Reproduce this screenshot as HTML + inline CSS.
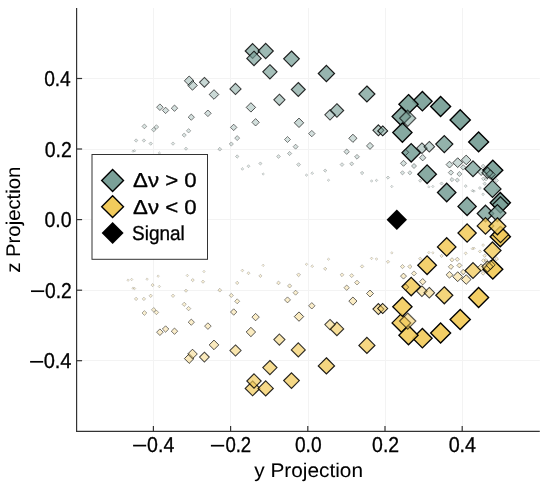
<!DOCTYPE html>
<html><head><meta charset="utf-8"><style>
html,body{margin:0;padding:0;background:#fff;}
svg{display:block;}
text{font-family:"Liberation Sans",sans-serif;fill:#000;stroke:#000;stroke-width:0.32px;text-rendering:geometricPrecision;}
text.ns{stroke-width:0.05px;}
</style></head><body>
<svg width="548" height="487" viewBox="0 0 548 487" style="will-change:transform">
<defs><filter id="sm" x="0" y="0" width="548" height="487" filterUnits="userSpaceOnUse" color-interpolation-filters="sRGB"><feConvolveMatrix order="3" kernelMatrix="1 2 1 2 16 2 1 2 1" edgeMode="duplicate"/></filter></defs>
<g >
<rect width="548" height="487" fill="#fff"/>
<g stroke="#f3f3f3" stroke-width="1">
<line x1="153.5" y1="8.0" x2="153.5" y2="431.4" />
<line x1="76.6" y1="360.5" x2="539.8" y2="360.5" />
<line x1="230.5" y1="8.0" x2="230.5" y2="431.4" />
<line x1="76.6" y1="290.5" x2="539.8" y2="290.5" />
<line x1="308.5" y1="8.0" x2="308.5" y2="431.4" />
<line x1="76.6" y1="219.5" x2="539.8" y2="219.5" />
<line x1="385.5" y1="8.0" x2="385.5" y2="431.4" />
<line x1="76.6" y1="149.5" x2="539.8" y2="149.5" />
<line x1="462.5" y1="8.0" x2="462.5" y2="431.4" />
<line x1="76.6" y1="78.5" x2="539.8" y2="78.5" />
</g>
<g stroke-linejoin="miter">
<path d="M189.2 76.0L194.0 80.8L189.2 85.6L184.4 80.8Z" fill="#7aa098" fill-opacity="0.40" stroke="#000" stroke-opacity="0.69" stroke-width="1.00"/>
<path d="M192.5 80.6L197.3 85.4L192.5 90.2L187.7 85.4Z" fill="#7aa098" fill-opacity="0.40" stroke="#000" stroke-opacity="0.69" stroke-width="1.00"/>
<path d="M204.4 77.4L209.3 82.3L204.4 87.2L199.5 82.3Z" fill="#7aa098" fill-opacity="0.41" stroke="#000" stroke-opacity="0.71" stroke-width="1.01"/>
<path d="M214.0 89.7L218.8 94.5L214.0 99.3L209.2 94.5Z" fill="#7aa098" fill-opacity="0.40" stroke="#000" stroke-opacity="0.69" stroke-width="1.00"/>
<path d="M159.9 103.9L163.2 107.2L159.9 110.5L156.6 107.2Z" fill="#7aa098" fill-opacity="0.32" stroke="#000" stroke-opacity="0.56" stroke-width="0.95"/>
<path d="M165.6 107.2L168.8 110.4L165.6 113.6L162.4 110.4Z" fill="#7aa098" fill-opacity="0.32" stroke="#000" stroke-opacity="0.55" stroke-width="0.95"/>
<path d="M174.5 105.0L177.7 108.2L174.5 111.4L171.3 108.2Z" fill="#7aa098" fill-opacity="0.32" stroke="#000" stroke-opacity="0.55" stroke-width="0.95"/>
<path d="M191.3 114.1L194.4 117.2L191.3 120.3L188.2 117.2Z" fill="#7aa098" fill-opacity="0.32" stroke="#000" stroke-opacity="0.53" stroke-width="0.95"/>
<path d="M207.9 110.0L211.2 113.3L207.9 116.6L204.6 113.3Z" fill="#7aa098" fill-opacity="0.32" stroke="#000" stroke-opacity="0.56" stroke-width="0.95"/>
<path d="M144.4 124.0L146.8 126.4L144.4 128.8L142.0 126.4Z" fill="#7aa098" fill-opacity="0.28" stroke="#000" stroke-opacity="0.36" stroke-width="0.91"/>
<path d="M153.7 127.3L156.0 129.6L153.7 131.9L151.4 129.6Z" fill="#7aa098" fill-opacity="0.28" stroke="#000" stroke-opacity="0.34" stroke-width="0.91"/>
<path d="M156.4 124.7L158.7 127.0L156.4 129.3L154.1 127.0Z" fill="#7aa098" fill-opacity="0.28" stroke="#000" stroke-opacity="0.34" stroke-width="0.91"/>
<path d="M188.6 128.6L190.8 130.8L188.6 133.0L186.4 130.8Z" fill="#7aa098" fill-opacity="0.27" stroke="#000" stroke-opacity="0.32" stroke-width="0.90"/>
<path d="M184.2 133.0L186.3 135.1L184.2 137.2L182.1 135.1Z" fill="#7aa098" fill-opacity="0.27" stroke="#000" stroke-opacity="0.30" stroke-width="0.90"/>
<path d="M252.6 43.6L260.0 51.0L252.6 58.4L245.2 51.0Z" fill="#7aa098" fill-opacity="0.71" stroke="#000" stroke-opacity="0.84" stroke-width="1.15"/>
<path d="M265.7 43.4L273.3 51.0L265.7 58.6L258.1 51.0Z" fill="#7aa098" fill-opacity="0.73" stroke="#000" stroke-opacity="0.85" stroke-width="1.17"/>
<path d="M254.0 51.2L261.2 58.4L254.0 65.6L246.8 58.4Z" fill="#7aa098" fill-opacity="0.69" stroke="#000" stroke-opacity="0.83" stroke-width="1.13"/>
<path d="M291.5 51.0L299.3 58.8L291.5 66.6L283.7 58.8Z" fill="#7aa098" fill-opacity="0.74" stroke="#000" stroke-opacity="0.86" stroke-width="1.19"/>
<path d="M269.9 64.7L277.0 71.8L269.9 78.9L262.8 71.8Z" fill="#7aa098" fill-opacity="0.68" stroke="#000" stroke-opacity="0.82" stroke-width="1.12"/>
<path d="M298.3 82.5L305.3 89.5L298.3 96.5L291.3 89.5Z" fill="#7aa098" fill-opacity="0.67" stroke="#000" stroke-opacity="0.81" stroke-width="1.11"/>
<path d="M235.5 83.3L241.1 88.9L235.5 94.5L229.9 88.9Z" fill="#7aa098" fill-opacity="0.50" stroke="#000" stroke-opacity="0.74" stroke-width="1.04"/>
<path d="M279.4 94.2L285.0 99.8L279.4 105.4L273.8 99.8Z" fill="#7aa098" fill-opacity="0.50" stroke="#000" stroke-opacity="0.74" stroke-width="1.04"/>
<path d="M250.9 102.7L255.6 107.4L250.9 112.1L246.2 107.4Z" fill="#7aa098" fill-opacity="0.39" stroke="#000" stroke-opacity="0.68" stroke-width="0.99"/>
<path d="M255.6 118.6L259.3 122.3L255.6 126.0L251.9 122.3Z" fill="#7aa098" fill-opacity="0.34" stroke="#000" stroke-opacity="0.59" stroke-width="0.96"/>
<path d="M299.0 118.1L303.7 122.8L299.0 127.5L294.3 122.8Z" fill="#7aa098" fill-opacity="0.39" stroke="#000" stroke-opacity="0.68" stroke-width="0.99"/>
<path d="M233.7 124.2L236.9 127.4L233.7 130.6L230.5 127.4Z" fill="#7aa098" fill-opacity="0.32" stroke="#000" stroke-opacity="0.55" stroke-width="0.95"/>
<path d="M326.4 65.4L334.5 73.5L326.4 81.6L318.3 73.5Z" fill="#7aa098" fill-opacity="0.78" stroke="#000" stroke-opacity="0.89" stroke-width="1.22"/>
<path d="M366.9 86.0L374.9 94.0L366.9 102.0L358.9 94.0Z" fill="#7aa098" fill-opacity="0.77" stroke="#000" stroke-opacity="0.88" stroke-width="1.21"/>
<path d="M336.9 103.7L343.7 110.5L336.9 117.3L330.1 110.5Z" fill="#7aa098" fill-opacity="0.64" stroke="#000" stroke-opacity="0.80" stroke-width="1.10"/>
<path d="M330.0 109.6L335.2 114.8L330.0 120.0L324.8 114.8Z" fill="#7aa098" fill-opacity="0.45" stroke="#000" stroke-opacity="0.72" stroke-width="1.02"/>
<path d="M311.8 130.4L315.0 133.6L311.8 136.8L308.6 133.6Z" fill="#7aa098" fill-opacity="0.32" stroke="#000" stroke-opacity="0.55" stroke-width="0.95"/>
<path d="M352.9 134.2L357.0 138.3L352.9 142.4L348.8 138.3Z" fill="#7aa098" fill-opacity="0.36" stroke="#000" stroke-opacity="0.63" stroke-width="0.98"/>
<path d="M378.4 124.8L383.9 130.3L378.4 135.8L372.9 130.3Z" fill="#7aa098" fill-opacity="0.55" stroke="#000" stroke-opacity="0.83" stroke-width="1.04"/>
<path d="M382.7 125.9L387.7 130.9L382.7 135.9L377.7 130.9Z" fill="#7aa098" fill-opacity="0.55" stroke="#000" stroke-opacity="0.92" stroke-width="1.01"/>
<path d="M370.0 142.4L373.5 145.9L370.0 149.4L366.5 145.9Z" fill="#7aa098" fill-opacity="0.33" stroke="#000" stroke-opacity="0.58" stroke-width="0.96"/>
<path d="M346.7 149.0L349.4 151.7L346.7 154.4L344.0 151.7Z" fill="#7aa098" fill-opacity="0.30" stroke="#000" stroke-opacity="0.45" stroke-width="0.93"/>
<path d="M357.0 154.4L359.4 156.8L357.0 159.2L354.6 156.8Z" fill="#7aa098" fill-opacity="0.29" stroke="#000" stroke-opacity="0.38" stroke-width="0.92"/>
<path d="M342.0 162.7L343.9 164.6L342.0 166.5L340.1 164.6Z" fill="#7aa098" fill-opacity="0.25" stroke="#000" stroke-opacity="0.27" stroke-width="0.87"/>
<path d="M351.7 161.8L353.7 163.8L351.7 165.8L349.7 163.8Z" fill="#7aa098" fill-opacity="0.26" stroke="#000" stroke-opacity="0.29" stroke-width="0.89"/>
<path d="M325.2 169.0L326.8 170.6L325.2 172.2L323.6 170.6Z" fill="#7aa098" fill-opacity="0.23" stroke="#000" stroke-opacity="0.25" stroke-width="0.85"/>
<path d="M312.2 171.8L313.6 173.2L312.2 174.6L310.8 173.2Z" fill="#7aa098" fill-opacity="0.21" stroke="#000" stroke-opacity="0.22" stroke-width="0.82"/>
<path d="M306.5 173.8L307.8 175.1L306.5 176.4L305.2 175.1Z" fill="#7aa098" fill-opacity="0.21" stroke="#000" stroke-opacity="0.21" stroke-width="0.81"/>
<path d="M328.5 178.9L329.8 180.2L328.5 181.4L327.2 180.2Z" fill="#7aa098" fill-opacity="0.20" stroke="#000" stroke-opacity="0.20" stroke-width="0.80"/>
<path d="M362.1 171.3L363.8 173.0L362.1 174.7L360.4 173.0Z" fill="#7aa098" fill-opacity="0.24" stroke="#000" stroke-opacity="0.25" stroke-width="0.85"/>
<path d="M371.6 179.7L372.9 181.0L371.6 182.3L370.3 181.0Z" fill="#7aa098" fill-opacity="0.21" stroke="#000" stroke-opacity="0.21" stroke-width="0.81"/>
<path d="M376.5 179.1L377.8 180.4L376.5 181.7L375.2 180.4Z" fill="#7aa098" fill-opacity="0.21" stroke="#000" stroke-opacity="0.21" stroke-width="0.81"/>
<path d="M388.0 176.0L389.6 177.6L388.0 179.2L386.4 177.6Z" fill="#7aa098" fill-opacity="0.23" stroke="#000" stroke-opacity="0.24" stroke-width="0.84"/>
<path d="M391.8 185.2L393.1 186.5L391.8 187.8L390.6 186.5Z" fill="#7aa098" fill-opacity="0.20" stroke="#000" stroke-opacity="0.20" stroke-width="0.80"/>
<path d="M237.2 135.6L239.7 138.1L237.2 140.6L234.7 138.1Z" fill="#7aa098" fill-opacity="0.29" stroke="#000" stroke-opacity="0.40" stroke-width="0.92"/>
<path d="M231.3 141.9L233.4 144.0L231.3 146.1L229.2 144.0Z" fill="#7aa098" fill-opacity="0.27" stroke="#000" stroke-opacity="0.30" stroke-width="0.90"/>
<path d="M219.8 147.3L221.7 149.2L219.8 151.1L217.9 149.2Z" fill="#7aa098" fill-opacity="0.25" stroke="#000" stroke-opacity="0.27" stroke-width="0.87"/>
<path d="M237.2 154.8L238.9 156.5L237.2 158.2L235.5 156.5Z" fill="#7aa098" fill-opacity="0.24" stroke="#000" stroke-opacity="0.25" stroke-width="0.85"/>
<path d="M287.5 136.5L290.5 139.5L287.5 142.5L284.5 139.5Z" fill="#7aa098" fill-opacity="0.31" stroke="#000" stroke-opacity="0.51" stroke-width="0.94"/>
<path d="M295.6 144.2L298.1 146.7L295.6 149.2L293.1 146.7Z" fill="#7aa098" fill-opacity="0.29" stroke="#000" stroke-opacity="0.40" stroke-width="0.92"/>
<path d="M289.6 151.4L291.7 153.5L289.6 155.6L287.5 153.5Z" fill="#7aa098" fill-opacity="0.27" stroke="#000" stroke-opacity="0.30" stroke-width="0.90"/>
<path d="M278.5 154.6L280.4 156.5L278.5 158.4L276.6 156.5Z" fill="#7aa098" fill-opacity="0.25" stroke="#000" stroke-opacity="0.27" stroke-width="0.87"/>
<path d="M260.4 161.9L262.0 163.5L260.4 165.1L258.8 163.5Z" fill="#7aa098" fill-opacity="0.23" stroke="#000" stroke-opacity="0.24" stroke-width="0.84"/>
<path d="M248.5 164.7L250.0 166.2L248.5 167.7L247.0 166.2Z" fill="#7aa098" fill-opacity="0.22" stroke="#000" stroke-opacity="0.23" stroke-width="0.83"/>
<path d="M242.4 167.5L243.8 168.9L242.4 170.3L241.0 168.9Z" fill="#7aa098" fill-opacity="0.21" stroke="#000" stroke-opacity="0.22" stroke-width="0.82"/>
<path d="M263.1 172.8L264.4 174.0L263.1 175.2L261.9 174.0Z" fill="#7aa098" fill-opacity="0.20" stroke="#000" stroke-opacity="0.20" stroke-width="0.80"/>
<path d="M298.6 162.7L300.5 164.6L298.6 166.5L296.7 164.6Z" fill="#7aa098" fill-opacity="0.25" stroke="#000" stroke-opacity="0.27" stroke-width="0.87"/>
<path d="M136.1 138.8L137.8 140.5L136.1 142.2L134.4 140.5Z" fill="#7aa098" fill-opacity="0.24" stroke="#000" stroke-opacity="0.25" stroke-width="0.85"/>
<path d="M143.9 138.8L145.6 140.5L143.9 142.2L142.2 140.5Z" fill="#7aa098" fill-opacity="0.24" stroke="#000" stroke-opacity="0.25" stroke-width="0.85"/>
<path d="M150.7 141.9L152.4 143.6L150.7 145.3L149.0 143.6Z" fill="#7aa098" fill-opacity="0.24" stroke="#000" stroke-opacity="0.25" stroke-width="0.85"/>
<path d="M173.0 141.9L174.7 143.6L173.0 145.3L171.3 143.6Z" fill="#7aa098" fill-opacity="0.24" stroke="#000" stroke-opacity="0.25" stroke-width="0.85"/>
<path d="M186.0 147.1L187.6 148.7L186.0 150.3L184.4 148.7Z" fill="#7aa098" fill-opacity="0.23" stroke="#000" stroke-opacity="0.24" stroke-width="0.84"/>
<path d="M133.0 149.9L134.2 151.2L133.0 152.4L131.8 151.2Z" fill="#7aa098" fill-opacity="0.20" stroke="#000" stroke-opacity="0.20" stroke-width="0.80"/>
<path d="M134.6 149.6L135.8 150.8L134.6 152.1L133.3 150.8Z" fill="#7aa098" fill-opacity="0.20" stroke="#000" stroke-opacity="0.20" stroke-width="0.80"/>
<path d="M159.3 151.7L160.6 152.9L159.3 154.2L158.1 152.9Z" fill="#7aa098" fill-opacity="0.20" stroke="#000" stroke-opacity="0.20" stroke-width="0.80"/>
<path d="M420.2 179.1L421.8 180.7L420.2 182.3L418.6 180.7Z" fill="#7aa098" fill-opacity="0.23" stroke="#000" stroke-opacity="0.25" stroke-width="0.85"/>
<path d="M428.9 185.6L430.1 186.8L428.9 188.1L427.6 186.8Z" fill="#7aa098" fill-opacity="0.20" stroke="#000" stroke-opacity="0.20" stroke-width="0.80"/>
<path d="M432.9 185.2L434.1 186.5L432.9 187.8L431.6 186.5Z" fill="#7aa098" fill-opacity="0.20" stroke="#000" stroke-opacity="0.20" stroke-width="0.80"/>
<path d="M441.6 181.9L443.2 183.5L441.6 185.1L440.0 183.5Z" fill="#7aa098" fill-opacity="0.23" stroke="#000" stroke-opacity="0.25" stroke-width="0.85"/>
<path d="M465.7 184.6L467.2 186.1L465.7 187.6L464.2 186.1Z" fill="#7aa098" fill-opacity="0.22" stroke="#000" stroke-opacity="0.23" stroke-width="0.83"/>
<path d="M472.4 189.4L473.7 190.7L472.4 192.0L471.1 190.7Z" fill="#7aa098" fill-opacity="0.21" stroke="#000" stroke-opacity="0.21" stroke-width="0.81"/>
<path d="M474.0 189.8L475.3 191.1L474.0 192.4L472.7 191.1Z" fill="#7aa098" fill-opacity="0.21" stroke="#000" stroke-opacity="0.21" stroke-width="0.81"/>
<path d="M479.9 186.5L481.4 188.0L479.9 189.5L478.4 188.0Z" fill="#7aa098" fill-opacity="0.22" stroke="#000" stroke-opacity="0.23" stroke-width="0.83"/>
<path d="M483.1 192.9L484.5 194.3L483.1 195.7L481.7 194.3Z" fill="#7aa098" fill-opacity="0.21" stroke="#000" stroke-opacity="0.22" stroke-width="0.82"/>
<path d="M483.5 176.9L485.4 178.8L483.5 180.7L481.6 178.8Z" fill="#7aa098" fill-opacity="0.25" stroke="#000" stroke-opacity="0.27" stroke-width="0.87"/>
<path d="M486.0 177.5L487.7 179.2L486.0 180.9L484.3 179.2Z" fill="#7aa098" fill-opacity="0.24" stroke="#000" stroke-opacity="0.25" stroke-width="0.85"/>
<path d="M484.7 182.0L486.4 183.7L484.7 185.4L483.0 183.7Z" fill="#7aa098" fill-opacity="0.24" stroke="#000" stroke-opacity="0.25" stroke-width="0.85"/>
<path d="M496.6 178.6L498.5 180.5L496.6 182.4L494.7 180.5Z" fill="#7aa098" fill-opacity="0.25" stroke="#000" stroke-opacity="0.27" stroke-width="0.87"/>
<path d="M497.3 188.6L498.8 190.1L497.3 191.6L495.8 190.1Z" fill="#7aa098" fill-opacity="0.22" stroke="#000" stroke-opacity="0.23" stroke-width="0.83"/>
<path d="M402.5 170.7L404.6 172.8L402.5 174.9L400.4 172.8Z" fill="#7aa098" fill-opacity="0.27" stroke="#000" stroke-opacity="0.30" stroke-width="0.90"/>
<path d="M409.9 170.7L412.0 172.8L409.9 174.9L407.8 172.8Z" fill="#7aa098" fill-opacity="0.27" stroke="#000" stroke-opacity="0.30" stroke-width="0.90"/>
<path d="M414.0 163.5L416.5 166.0L414.0 168.5L411.5 166.0Z" fill="#7aa098" fill-opacity="0.29" stroke="#000" stroke-opacity="0.40" stroke-width="0.92"/>
<path d="M403.5 160.3L406.5 163.3L403.5 166.3L400.5 163.3Z" fill="#7aa098" fill-opacity="0.31" stroke="#000" stroke-opacity="0.51" stroke-width="0.94"/>
<path d="M450.9 170.0L453.5 172.6L450.9 175.2L448.3 172.6Z" fill="#7aa098" fill-opacity="0.30" stroke="#000" stroke-opacity="0.43" stroke-width="0.92"/>
<path d="M459.4 171.5L461.9 174.0L459.4 176.5L456.9 174.0Z" fill="#7aa098" fill-opacity="0.29" stroke="#000" stroke-opacity="0.40" stroke-width="0.92"/>
<path d="M452.0 177.5L454.1 179.6L452.0 181.7L449.9 179.6Z" fill="#7aa098" fill-opacity="0.27" stroke="#000" stroke-opacity="0.30" stroke-width="0.90"/>
<path d="M457.3 178.0L459.4 180.1L457.3 182.2L455.2 180.1Z" fill="#7aa098" fill-opacity="0.27" stroke="#000" stroke-opacity="0.30" stroke-width="0.90"/>
<path d="M449.5 161.2L452.9 164.6L449.5 168.0L446.1 164.6Z" fill="#7aa098" fill-opacity="0.33" stroke="#000" stroke-opacity="0.57" stroke-width="0.96"/>
<path d="M463.2 164.7L465.9 167.4L463.2 170.1L460.5 167.4Z" fill="#7aa098" fill-opacity="0.30" stroke="#000" stroke-opacity="0.45" stroke-width="0.93"/>
<path d="M483.1 164.2L485.0 166.1L483.1 168.0L481.2 166.1Z" fill="#7aa098" fill-opacity="0.25" stroke="#000" stroke-opacity="0.27" stroke-width="0.87"/>
<path d="M401.4 107.2L410.7 116.5L401.4 125.8L392.1 116.5Z" fill="#7aa098" fill-opacity="0.89" stroke="#000" stroke-opacity="0.96" stroke-width="1.33"/>
<path d="M422.4 91.5L432.1 101.2L422.4 110.9L412.7 101.2Z" fill="#7aa098" fill-opacity="0.92" stroke="#000" stroke-opacity="0.98" stroke-width="1.37"/>
<path d="M408.5 94.6L418.1 104.2L408.5 113.8L398.9 104.2Z" fill="#7aa098" fill-opacity="0.91" stroke="#000" stroke-opacity="0.98" stroke-width="1.36"/>
<path d="M440.6 96.5L450.6 106.4L440.6 116.4L430.7 106.4Z" fill="#7aa098" fill-opacity="0.95" stroke="#000" stroke-opacity="1.00" stroke-width="1.40"/>
<path d="M407.7 110.2L415.8 118.3L407.7 126.4L399.6 118.3Z" fill="#7aa098" fill-opacity="0.55" stroke="#000" stroke-opacity="0.63" stroke-width="1.22"/>
<path d="M402.4 123.0L412.0 132.6L402.4 142.2L392.8 132.6Z" fill="#7aa098" fill-opacity="0.91" stroke="#000" stroke-opacity="0.98" stroke-width="1.36"/>
<path d="M460.2 109.8L470.3 119.9L460.2 130.1L450.1 119.9Z" fill="#7aa098" fill-opacity="0.95" stroke="#000" stroke-opacity="1.00" stroke-width="1.40"/>
<path d="M478.6 132.0L488.6 141.9L478.6 151.8L468.7 141.9Z" fill="#7aa098" fill-opacity="0.95" stroke="#000" stroke-opacity="1.00" stroke-width="1.40"/>
<path d="M444.3 135.6L452.8 144.1L444.3 152.6L435.8 144.1Z" fill="#7aa098" fill-opacity="0.81" stroke="#000" stroke-opacity="0.91" stroke-width="1.26"/>
<path d="M411.2 143.6L420.4 152.8L411.2 162.0L402.0 152.8Z" fill="#7aa098" fill-opacity="0.88" stroke="#000" stroke-opacity="0.95" stroke-width="1.33"/>
<path d="M405.5 149.1L408.7 152.3L405.5 155.5L402.3 152.3Z" fill="#7aa098" fill-opacity="0.32" stroke="#000" stroke-opacity="0.55" stroke-width="0.95"/>
<path d="M421.9 142.9L427.2 148.2L421.9 153.5L416.6 148.2Z" fill="#7aa098" fill-opacity="0.46" stroke="#000" stroke-opacity="0.73" stroke-width="1.03"/>
<path d="M429.3 141.4L434.6 146.7L429.3 152.0L424.0 146.7Z" fill="#7aa098" fill-opacity="0.46" stroke="#000" stroke-opacity="0.73" stroke-width="1.03"/>
<path d="M422.7 154.5L425.9 157.7L422.7 160.9L419.5 157.7Z" fill="#7aa098" fill-opacity="0.32" stroke="#000" stroke-opacity="0.55" stroke-width="0.95"/>
<path d="M427.1 164.9L436.4 174.2L427.1 183.5L417.8 174.2Z" fill="#7aa098" fill-opacity="0.89" stroke="#000" stroke-opacity="0.96" stroke-width="1.33"/>
<path d="M446.7 183.3L455.9 192.5L446.7 201.7L437.5 192.5Z" fill="#7aa098" fill-opacity="0.88" stroke="#000" stroke-opacity="0.95" stroke-width="1.33"/>
<path d="M457.7 157.8L462.6 162.7L457.7 167.5L452.8 162.7Z" fill="#7aa098" fill-opacity="0.40" stroke="#000" stroke-opacity="0.70" stroke-width="1.00"/>
<path d="M466.2 155.1L471.0 159.9L466.2 164.7L461.4 159.9Z" fill="#7aa098" fill-opacity="0.40" stroke="#000" stroke-opacity="0.69" stroke-width="1.00"/>
<path d="M473.0 160.9L480.9 168.8L473.0 176.7L465.1 168.8Z" fill="#7aa098" fill-opacity="0.76" stroke="#000" stroke-opacity="0.87" stroke-width="1.20"/>
<path d="M492.8 160.2L502.8 170.2L492.8 180.1L482.9 170.2Z" fill="#7aa098" fill-opacity="0.95" stroke="#000" stroke-opacity="1.00" stroke-width="1.40"/>
<path d="M481.2 168.1L484.9 171.8L481.2 175.5L477.5 171.8Z" fill="#7aa098" fill-opacity="0.34" stroke="#000" stroke-opacity="0.59" stroke-width="0.96"/>
<path d="M487.5 167.2L493.1 172.8L487.5 178.4L481.9 172.8Z" fill="#7aa098" fill-opacity="0.50" stroke="#000" stroke-opacity="0.74" stroke-width="1.04"/>
<path d="M490.5 169.8L495.2 174.5L490.5 179.2L485.8 174.5Z" fill="#7aa098" fill-opacity="0.39" stroke="#000" stroke-opacity="0.68" stroke-width="0.99"/>
<path d="M492.5 180.4L501.0 188.9L492.5 197.4L484.0 188.9Z" fill="#7aa098" fill-opacity="0.81" stroke="#000" stroke-opacity="0.91" stroke-width="1.26"/>
<path d="M467.1 197.3L476.2 206.4L467.1 215.5L458.0 206.4Z" fill="#7aa098" fill-opacity="0.87" stroke="#000" stroke-opacity="0.95" stroke-width="1.32"/>
<path d="M485.5 205.2L493.8 213.5L485.5 221.8L477.2 213.5Z" fill="#7aa098" fill-opacity="0.80" stroke="#000" stroke-opacity="0.90" stroke-width="1.24"/>
<path d="M500.3 192.6L510.4 202.7L500.3 212.8L490.2 202.7Z" fill="#7aa098" fill-opacity="0.95" stroke="#000" stroke-opacity="1.00" stroke-width="1.40"/>
<path d="M500.5 196.7L508.6 204.8L500.5 212.9L492.4 204.8Z" fill="#7aa098" fill-opacity="0.78" stroke="#000" stroke-opacity="0.89" stroke-width="1.22"/>
<path d="M497.4 204.6L505.9 213.1L497.4 221.6L488.9 213.1Z" fill="#7aa098" fill-opacity="0.81" stroke="#000" stroke-opacity="0.91" stroke-width="1.26"/>
<path d="M203.0 280.1L204.6 281.7L203.0 283.3L201.4 281.7Z" fill="#f2cb5c" fill-opacity="0.23" stroke="#000" stroke-opacity="0.24" stroke-width="0.84"/>
<path d="M204.0 270.2L205.2 271.5L204.0 272.8L202.8 271.5Z" fill="#f2cb5c" fill-opacity="0.20" stroke="#000" stroke-opacity="0.20" stroke-width="0.80"/>
<path d="M192.7 278.5L194.3 280.1L192.7 281.7L191.1 280.1Z" fill="#f2cb5c" fill-opacity="0.23" stroke="#000" stroke-opacity="0.24" stroke-width="0.84"/>
<path d="M187.3 274.2L188.6 275.5L187.3 276.8L186.1 275.5Z" fill="#f2cb5c" fill-opacity="0.20" stroke="#000" stroke-opacity="0.20" stroke-width="0.80"/>
<path d="M152.6 283.5L154.2 285.1L152.6 286.7L151.0 285.1Z" fill="#f2cb5c" fill-opacity="0.23" stroke="#000" stroke-opacity="0.24" stroke-width="0.84"/>
<path d="M158.2 274.9L159.4 276.1L158.2 277.4L156.9 276.1Z" fill="#f2cb5c" fill-opacity="0.20" stroke="#000" stroke-opacity="0.20" stroke-width="0.80"/>
<path d="M147.1 277.9L148.3 279.1L147.1 280.4L145.8 279.1Z" fill="#f2cb5c" fill-opacity="0.20" stroke="#000" stroke-opacity="0.20" stroke-width="0.80"/>
<path d="M131.7 278.2L132.9 279.5L131.7 280.8L130.4 279.5Z" fill="#f2cb5c" fill-opacity="0.20" stroke="#000" stroke-opacity="0.20" stroke-width="0.80"/>
<path d="M128.1 278.9L129.3 280.1L128.1 281.4L126.8 280.1Z" fill="#f2cb5c" fill-opacity="0.20" stroke="#000" stroke-opacity="0.20" stroke-width="0.80"/>
<path d="M189.2 353.8L194.0 358.6L189.2 363.4L184.4 358.6Z" fill="#f2cb5c" fill-opacity="0.40" stroke="#000" stroke-opacity="0.69" stroke-width="1.00"/>
<path d="M192.5 349.2L197.3 354.0L192.5 358.8L187.7 354.0Z" fill="#f2cb5c" fill-opacity="0.40" stroke="#000" stroke-opacity="0.69" stroke-width="1.00"/>
<path d="M204.4 352.2L209.3 357.1L204.4 362.0L199.5 357.1Z" fill="#f2cb5c" fill-opacity="0.41" stroke="#000" stroke-opacity="0.71" stroke-width="1.01"/>
<path d="M214.0 340.1L218.8 344.9L214.0 349.7L209.2 344.9Z" fill="#f2cb5c" fill-opacity="0.40" stroke="#000" stroke-opacity="0.69" stroke-width="1.00"/>
<path d="M159.9 328.9L163.2 332.2L159.9 335.5L156.6 332.2Z" fill="#f2cb5c" fill-opacity="0.32" stroke="#000" stroke-opacity="0.56" stroke-width="0.95"/>
<path d="M165.6 325.8L168.8 329.0L165.6 332.2L162.4 329.0Z" fill="#f2cb5c" fill-opacity="0.32" stroke="#000" stroke-opacity="0.55" stroke-width="0.95"/>
<path d="M174.5 328.0L177.7 331.2L174.5 334.4L171.3 331.2Z" fill="#f2cb5c" fill-opacity="0.32" stroke="#000" stroke-opacity="0.55" stroke-width="0.95"/>
<path d="M191.3 319.1L194.4 322.2L191.3 325.3L188.2 322.2Z" fill="#f2cb5c" fill-opacity="0.32" stroke="#000" stroke-opacity="0.53" stroke-width="0.95"/>
<path d="M207.9 322.8L211.2 326.1L207.9 329.4L204.6 326.1Z" fill="#f2cb5c" fill-opacity="0.32" stroke="#000" stroke-opacity="0.56" stroke-width="0.95"/>
<path d="M144.4 310.6L146.8 313.0L144.4 315.4L142.0 313.0Z" fill="#f2cb5c" fill-opacity="0.28" stroke="#000" stroke-opacity="0.36" stroke-width="0.91"/>
<path d="M153.7 307.5L156.0 309.8L153.7 312.1L151.4 309.8Z" fill="#f2cb5c" fill-opacity="0.28" stroke="#000" stroke-opacity="0.34" stroke-width="0.91"/>
<path d="M156.4 310.1L158.7 312.4L156.4 314.7L154.1 312.4Z" fill="#f2cb5c" fill-opacity="0.28" stroke="#000" stroke-opacity="0.34" stroke-width="0.91"/>
<path d="M188.6 306.4L190.8 308.6L188.6 310.8L186.4 308.6Z" fill="#f2cb5c" fill-opacity="0.27" stroke="#000" stroke-opacity="0.32" stroke-width="0.90"/>
<path d="M184.2 302.2L186.3 304.3L184.2 306.4L182.1 304.3Z" fill="#f2cb5c" fill-opacity="0.27" stroke="#000" stroke-opacity="0.30" stroke-width="0.90"/>
<path d="M252.6 381.0L260.0 388.4L252.6 395.8L245.2 388.4Z" fill="#f2cb5c" fill-opacity="0.71" stroke="#000" stroke-opacity="0.84" stroke-width="1.15"/>
<path d="M265.7 380.8L273.3 388.4L265.7 396.0L258.1 388.4Z" fill="#f2cb5c" fill-opacity="0.73" stroke="#000" stroke-opacity="0.85" stroke-width="1.17"/>
<path d="M254.0 373.8L261.2 381.0L254.0 388.2L246.8 381.0Z" fill="#f2cb5c" fill-opacity="0.69" stroke="#000" stroke-opacity="0.83" stroke-width="1.13"/>
<path d="M291.5 372.8L299.3 380.6L291.5 388.4L283.7 380.6Z" fill="#f2cb5c" fill-opacity="0.74" stroke="#000" stroke-opacity="0.86" stroke-width="1.19"/>
<path d="M269.9 360.5L277.0 367.6L269.9 374.7L262.8 367.6Z" fill="#f2cb5c" fill-opacity="0.68" stroke="#000" stroke-opacity="0.82" stroke-width="1.12"/>
<path d="M298.3 342.9L305.3 349.9L298.3 356.9L291.3 349.9Z" fill="#f2cb5c" fill-opacity="0.67" stroke="#000" stroke-opacity="0.81" stroke-width="1.11"/>
<path d="M235.5 344.9L241.1 350.5L235.5 356.1L229.9 350.5Z" fill="#f2cb5c" fill-opacity="0.50" stroke="#000" stroke-opacity="0.74" stroke-width="1.04"/>
<path d="M279.4 334.0L285.0 339.6L279.4 345.2L273.8 339.6Z" fill="#f2cb5c" fill-opacity="0.50" stroke="#000" stroke-opacity="0.74" stroke-width="1.04"/>
<path d="M250.9 327.3L255.6 332.0L250.9 336.7L246.2 332.0Z" fill="#f2cb5c" fill-opacity="0.39" stroke="#000" stroke-opacity="0.68" stroke-width="0.99"/>
<path d="M255.6 313.4L259.3 317.1L255.6 320.8L251.9 317.1Z" fill="#f2cb5c" fill-opacity="0.34" stroke="#000" stroke-opacity="0.59" stroke-width="0.96"/>
<path d="M299.0 311.9L303.7 316.6L299.0 321.3L294.3 316.6Z" fill="#f2cb5c" fill-opacity="0.39" stroke="#000" stroke-opacity="0.68" stroke-width="0.99"/>
<path d="M233.7 308.8L236.9 312.0L233.7 315.2L230.5 312.0Z" fill="#f2cb5c" fill-opacity="0.32" stroke="#000" stroke-opacity="0.55" stroke-width="0.95"/>
<path d="M326.4 357.8L334.5 365.9L326.4 374.0L318.3 365.9Z" fill="#f2cb5c" fill-opacity="0.78" stroke="#000" stroke-opacity="0.89" stroke-width="1.22"/>
<path d="M366.9 337.4L374.9 345.4L366.9 353.4L358.9 345.4Z" fill="#f2cb5c" fill-opacity="0.77" stroke="#000" stroke-opacity="0.88" stroke-width="1.21"/>
<path d="M336.9 322.1L343.7 328.9L336.9 335.7L330.1 328.9Z" fill="#f2cb5c" fill-opacity="0.64" stroke="#000" stroke-opacity="0.80" stroke-width="1.10"/>
<path d="M330.0 319.4L335.2 324.6L330.0 329.8L324.8 324.6Z" fill="#f2cb5c" fill-opacity="0.45" stroke="#000" stroke-opacity="0.72" stroke-width="1.02"/>
<path d="M311.8 302.6L315.0 305.8L311.8 309.0L308.6 305.8Z" fill="#f2cb5c" fill-opacity="0.32" stroke="#000" stroke-opacity="0.55" stroke-width="0.95"/>
<path d="M352.9 297.0L357.0 301.1L352.9 305.2L348.8 301.1Z" fill="#f2cb5c" fill-opacity="0.36" stroke="#000" stroke-opacity="0.63" stroke-width="0.98"/>
<path d="M378.4 303.6L383.9 309.1L378.4 314.6L372.9 309.1Z" fill="#f2cb5c" fill-opacity="0.55" stroke="#000" stroke-opacity="0.83" stroke-width="1.04"/>
<path d="M382.7 303.5L387.7 308.5L382.7 313.5L377.7 308.5Z" fill="#f2cb5c" fill-opacity="0.55" stroke="#000" stroke-opacity="0.92" stroke-width="1.01"/>
<path d="M370.0 290.0L373.5 293.5L370.0 297.0L366.5 293.5Z" fill="#f2cb5c" fill-opacity="0.33" stroke="#000" stroke-opacity="0.58" stroke-width="0.96"/>
<path d="M346.7 285.0L349.4 287.7L346.7 290.4L344.0 287.7Z" fill="#f2cb5c" fill-opacity="0.30" stroke="#000" stroke-opacity="0.45" stroke-width="0.93"/>
<path d="M357.0 280.2L359.4 282.6L357.0 285.0L354.6 282.6Z" fill="#f2cb5c" fill-opacity="0.29" stroke="#000" stroke-opacity="0.38" stroke-width="0.92"/>
<path d="M342.0 272.9L343.9 274.8L342.0 276.7L340.1 274.8Z" fill="#f2cb5c" fill-opacity="0.25" stroke="#000" stroke-opacity="0.27" stroke-width="0.87"/>
<path d="M351.7 273.6L353.7 275.6L351.7 277.6L349.7 275.6Z" fill="#f2cb5c" fill-opacity="0.26" stroke="#000" stroke-opacity="0.29" stroke-width="0.89"/>
<path d="M325.2 267.2L326.8 268.8L325.2 270.4L323.6 268.8Z" fill="#f2cb5c" fill-opacity="0.23" stroke="#000" stroke-opacity="0.25" stroke-width="0.85"/>
<path d="M312.2 264.8L313.6 266.2L312.2 267.6L310.8 266.2Z" fill="#f2cb5c" fill-opacity="0.21" stroke="#000" stroke-opacity="0.22" stroke-width="0.82"/>
<path d="M306.5 263.0L307.8 264.3L306.5 265.6L305.2 264.3Z" fill="#f2cb5c" fill-opacity="0.21" stroke="#000" stroke-opacity="0.21" stroke-width="0.81"/>
<path d="M328.5 257.9L329.8 259.2L328.5 260.4L327.2 259.2Z" fill="#f2cb5c" fill-opacity="0.20" stroke="#000" stroke-opacity="0.20" stroke-width="0.80"/>
<path d="M362.1 264.7L363.8 266.4L362.1 268.1L360.4 266.4Z" fill="#f2cb5c" fill-opacity="0.24" stroke="#000" stroke-opacity="0.25" stroke-width="0.85"/>
<path d="M371.6 257.1L372.9 258.4L371.6 259.7L370.3 258.4Z" fill="#f2cb5c" fill-opacity="0.21" stroke="#000" stroke-opacity="0.21" stroke-width="0.81"/>
<path d="M376.5 257.7L377.8 259.0L376.5 260.3L375.2 259.0Z" fill="#f2cb5c" fill-opacity="0.21" stroke="#000" stroke-opacity="0.21" stroke-width="0.81"/>
<path d="M388.0 260.2L389.6 261.8L388.0 263.4L386.4 261.8Z" fill="#f2cb5c" fill-opacity="0.23" stroke="#000" stroke-opacity="0.24" stroke-width="0.84"/>
<path d="M391.8 251.6L393.1 252.9L391.8 254.1L390.6 252.9Z" fill="#f2cb5c" fill-opacity="0.20" stroke="#000" stroke-opacity="0.20" stroke-width="0.80"/>
<path d="M237.2 298.8L239.7 301.3L237.2 303.8L234.7 301.3Z" fill="#f2cb5c" fill-opacity="0.29" stroke="#000" stroke-opacity="0.40" stroke-width="0.92"/>
<path d="M231.3 293.3L233.4 295.4L231.3 297.5L229.2 295.4Z" fill="#f2cb5c" fill-opacity="0.27" stroke="#000" stroke-opacity="0.30" stroke-width="0.90"/>
<path d="M219.8 288.3L221.7 290.2L219.8 292.1L217.9 290.2Z" fill="#f2cb5c" fill-opacity="0.25" stroke="#000" stroke-opacity="0.27" stroke-width="0.87"/>
<path d="M237.2 281.2L238.9 282.9L237.2 284.6L235.5 282.9Z" fill="#f2cb5c" fill-opacity="0.24" stroke="#000" stroke-opacity="0.25" stroke-width="0.85"/>
<path d="M287.5 296.9L290.5 299.9L287.5 302.9L284.5 299.9Z" fill="#f2cb5c" fill-opacity="0.31" stroke="#000" stroke-opacity="0.51" stroke-width="0.94"/>
<path d="M295.6 290.2L298.1 292.7L295.6 295.2L293.1 292.7Z" fill="#f2cb5c" fill-opacity="0.29" stroke="#000" stroke-opacity="0.40" stroke-width="0.92"/>
<path d="M289.6 283.8L291.7 285.9L289.6 288.0L287.5 285.9Z" fill="#f2cb5c" fill-opacity="0.27" stroke="#000" stroke-opacity="0.30" stroke-width="0.90"/>
<path d="M278.5 281.0L280.4 282.9L278.5 284.8L276.6 282.9Z" fill="#f2cb5c" fill-opacity="0.25" stroke="#000" stroke-opacity="0.27" stroke-width="0.87"/>
<path d="M260.4 274.3L262.0 275.9L260.4 277.5L258.8 275.9Z" fill="#f2cb5c" fill-opacity="0.23" stroke="#000" stroke-opacity="0.24" stroke-width="0.84"/>
<path d="M248.5 271.7L250.0 273.2L248.5 274.7L247.0 273.2Z" fill="#f2cb5c" fill-opacity="0.22" stroke="#000" stroke-opacity="0.23" stroke-width="0.83"/>
<path d="M242.4 269.1L243.8 270.5L242.4 271.9L241.0 270.5Z" fill="#f2cb5c" fill-opacity="0.21" stroke="#000" stroke-opacity="0.22" stroke-width="0.82"/>
<path d="M263.1 264.1L264.4 265.4L263.1 266.6L261.9 265.4Z" fill="#f2cb5c" fill-opacity="0.20" stroke="#000" stroke-opacity="0.20" stroke-width="0.80"/>
<path d="M298.6 272.9L300.5 274.8L298.6 276.7L296.7 274.8Z" fill="#f2cb5c" fill-opacity="0.25" stroke="#000" stroke-opacity="0.27" stroke-width="0.87"/>
<path d="M136.1 297.2L137.8 298.9L136.1 300.6L134.4 298.9Z" fill="#f2cb5c" fill-opacity="0.24" stroke="#000" stroke-opacity="0.25" stroke-width="0.85"/>
<path d="M143.9 297.2L145.6 298.9L143.9 300.6L142.2 298.9Z" fill="#f2cb5c" fill-opacity="0.24" stroke="#000" stroke-opacity="0.25" stroke-width="0.85"/>
<path d="M150.7 294.1L152.4 295.8L150.7 297.5L149.0 295.8Z" fill="#f2cb5c" fill-opacity="0.24" stroke="#000" stroke-opacity="0.25" stroke-width="0.85"/>
<path d="M173.0 294.1L174.7 295.8L173.0 297.5L171.3 295.8Z" fill="#f2cb5c" fill-opacity="0.24" stroke="#000" stroke-opacity="0.25" stroke-width="0.85"/>
<path d="M186.0 289.1L187.6 290.7L186.0 292.3L184.4 290.7Z" fill="#f2cb5c" fill-opacity="0.23" stroke="#000" stroke-opacity="0.24" stroke-width="0.84"/>
<path d="M133.0 286.9L134.2 288.2L133.0 289.4L131.8 288.2Z" fill="#f2cb5c" fill-opacity="0.20" stroke="#000" stroke-opacity="0.20" stroke-width="0.80"/>
<path d="M134.6 287.3L135.8 288.6L134.6 289.8L133.3 288.6Z" fill="#f2cb5c" fill-opacity="0.20" stroke="#000" stroke-opacity="0.20" stroke-width="0.80"/>
<path d="M159.3 285.2L160.6 286.5L159.3 287.8L158.1 286.5Z" fill="#f2cb5c" fill-opacity="0.20" stroke="#000" stroke-opacity="0.20" stroke-width="0.80"/>
<path d="M420.2 257.1L421.8 258.7L420.2 260.3L418.6 258.7Z" fill="#f2cb5c" fill-opacity="0.23" stroke="#000" stroke-opacity="0.25" stroke-width="0.85"/>
<path d="M428.9 251.3L430.1 252.6L428.9 253.8L427.6 252.6Z" fill="#f2cb5c" fill-opacity="0.20" stroke="#000" stroke-opacity="0.20" stroke-width="0.80"/>
<path d="M432.9 251.6L434.1 252.9L432.9 254.1L431.6 252.9Z" fill="#f2cb5c" fill-opacity="0.20" stroke="#000" stroke-opacity="0.20" stroke-width="0.80"/>
<path d="M441.6 254.3L443.2 255.9L441.6 257.5L440.0 255.9Z" fill="#f2cb5c" fill-opacity="0.23" stroke="#000" stroke-opacity="0.25" stroke-width="0.85"/>
<path d="M465.7 251.8L467.2 253.3L465.7 254.8L464.2 253.3Z" fill="#f2cb5c" fill-opacity="0.22" stroke="#000" stroke-opacity="0.23" stroke-width="0.83"/>
<path d="M472.4 247.4L473.7 248.7L472.4 250.0L471.1 248.7Z" fill="#f2cb5c" fill-opacity="0.21" stroke="#000" stroke-opacity="0.21" stroke-width="0.81"/>
<path d="M474.0 247.0L475.3 248.3L474.0 249.6L472.7 248.3Z" fill="#f2cb5c" fill-opacity="0.21" stroke="#000" stroke-opacity="0.21" stroke-width="0.81"/>
<path d="M479.9 249.9L481.4 251.4L479.9 252.9L478.4 251.4Z" fill="#f2cb5c" fill-opacity="0.22" stroke="#000" stroke-opacity="0.23" stroke-width="0.83"/>
<path d="M483.1 243.7L484.5 245.1L483.1 246.5L481.7 245.1Z" fill="#f2cb5c" fill-opacity="0.21" stroke="#000" stroke-opacity="0.22" stroke-width="0.82"/>
<path d="M483.5 258.7L485.4 260.6L483.5 262.5L481.6 260.6Z" fill="#f2cb5c" fill-opacity="0.25" stroke="#000" stroke-opacity="0.27" stroke-width="0.87"/>
<path d="M486.0 258.5L487.7 260.2L486.0 261.9L484.3 260.2Z" fill="#f2cb5c" fill-opacity="0.24" stroke="#000" stroke-opacity="0.25" stroke-width="0.85"/>
<path d="M484.7 254.0L486.4 255.7L484.7 257.4L483.0 255.7Z" fill="#f2cb5c" fill-opacity="0.24" stroke="#000" stroke-opacity="0.25" stroke-width="0.85"/>
<path d="M496.6 257.0L498.5 258.9L496.6 260.8L494.7 258.9Z" fill="#f2cb5c" fill-opacity="0.25" stroke="#000" stroke-opacity="0.27" stroke-width="0.87"/>
<path d="M497.3 247.8L498.8 249.3L497.3 250.8L495.8 249.3Z" fill="#f2cb5c" fill-opacity="0.22" stroke="#000" stroke-opacity="0.23" stroke-width="0.83"/>
<path d="M402.5 264.5L404.6 266.6L402.5 268.7L400.4 266.6Z" fill="#f2cb5c" fill-opacity="0.27" stroke="#000" stroke-opacity="0.30" stroke-width="0.90"/>
<path d="M409.9 264.5L412.0 266.6L409.9 268.7L407.8 266.6Z" fill="#f2cb5c" fill-opacity="0.27" stroke="#000" stroke-opacity="0.30" stroke-width="0.90"/>
<path d="M414.0 270.9L416.5 273.4L414.0 275.9L411.5 273.4Z" fill="#f2cb5c" fill-opacity="0.29" stroke="#000" stroke-opacity="0.40" stroke-width="0.92"/>
<path d="M403.5 273.1L406.5 276.1L403.5 279.1L400.5 276.1Z" fill="#f2cb5c" fill-opacity="0.31" stroke="#000" stroke-opacity="0.51" stroke-width="0.94"/>
<path d="M450.9 264.2L453.5 266.8L450.9 269.4L448.3 266.8Z" fill="#f2cb5c" fill-opacity="0.30" stroke="#000" stroke-opacity="0.43" stroke-width="0.92"/>
<path d="M459.4 262.9L461.9 265.4L459.4 267.9L456.9 265.4Z" fill="#f2cb5c" fill-opacity="0.29" stroke="#000" stroke-opacity="0.40" stroke-width="0.92"/>
<path d="M452.0 257.7L454.1 259.8L452.0 261.9L449.9 259.8Z" fill="#f2cb5c" fill-opacity="0.27" stroke="#000" stroke-opacity="0.30" stroke-width="0.90"/>
<path d="M457.3 257.2L459.4 259.3L457.3 261.4L455.2 259.3Z" fill="#f2cb5c" fill-opacity="0.27" stroke="#000" stroke-opacity="0.30" stroke-width="0.90"/>
<path d="M449.5 271.4L452.9 274.8L449.5 278.2L446.1 274.8Z" fill="#f2cb5c" fill-opacity="0.33" stroke="#000" stroke-opacity="0.57" stroke-width="0.96"/>
<path d="M463.2 269.3L465.9 272.0L463.2 274.7L460.5 272.0Z" fill="#f2cb5c" fill-opacity="0.30" stroke="#000" stroke-opacity="0.45" stroke-width="0.93"/>
<path d="M483.1 271.4L485.0 273.3L483.1 275.2L481.2 273.3Z" fill="#f2cb5c" fill-opacity="0.25" stroke="#000" stroke-opacity="0.27" stroke-width="0.87"/>
<path d="M401.4 313.6L410.7 322.9L401.4 332.2L392.1 322.9Z" fill="#f2cb5c" fill-opacity="0.89" stroke="#000" stroke-opacity="0.96" stroke-width="1.33"/>
<path d="M422.4 328.5L432.1 338.2L422.4 347.9L412.7 338.2Z" fill="#f2cb5c" fill-opacity="0.92" stroke="#000" stroke-opacity="0.98" stroke-width="1.37"/>
<path d="M408.5 325.6L418.1 335.2L408.5 344.8L398.9 335.2Z" fill="#f2cb5c" fill-opacity="0.91" stroke="#000" stroke-opacity="0.98" stroke-width="1.36"/>
<path d="M440.6 323.1L450.6 333.0L440.6 342.9L430.7 333.0Z" fill="#f2cb5c" fill-opacity="0.95" stroke="#000" stroke-opacity="1.00" stroke-width="1.40"/>
<path d="M407.7 313.0L415.8 321.1L407.7 329.2L399.6 321.1Z" fill="#f2cb5c" fill-opacity="0.55" stroke="#000" stroke-opacity="0.63" stroke-width="1.22"/>
<path d="M402.4 297.2L412.0 306.8L402.4 316.4L392.8 306.8Z" fill="#f2cb5c" fill-opacity="0.91" stroke="#000" stroke-opacity="0.98" stroke-width="1.36"/>
<path d="M460.2 309.4L470.3 319.5L460.2 329.6L450.1 319.5Z" fill="#f2cb5c" fill-opacity="0.95" stroke="#000" stroke-opacity="1.00" stroke-width="1.40"/>
<path d="M478.6 287.6L488.6 297.5L478.6 307.4L468.7 297.5Z" fill="#f2cb5c" fill-opacity="0.95" stroke="#000" stroke-opacity="1.00" stroke-width="1.40"/>
<path d="M444.3 286.8L452.8 295.3L444.3 303.8L435.8 295.3Z" fill="#f2cb5c" fill-opacity="0.81" stroke="#000" stroke-opacity="0.91" stroke-width="1.26"/>
<path d="M411.2 277.4L420.4 286.6L411.2 295.8L402.0 286.6Z" fill="#f2cb5c" fill-opacity="0.88" stroke="#000" stroke-opacity="0.95" stroke-width="1.33"/>
<path d="M405.5 283.9L408.7 287.1L405.5 290.3L402.3 287.1Z" fill="#f2cb5c" fill-opacity="0.32" stroke="#000" stroke-opacity="0.55" stroke-width="0.95"/>
<path d="M421.9 285.9L427.2 291.2L421.9 296.5L416.6 291.2Z" fill="#f2cb5c" fill-opacity="0.46" stroke="#000" stroke-opacity="0.73" stroke-width="1.03"/>
<path d="M429.3 287.4L434.6 292.7L429.3 298.0L424.0 292.7Z" fill="#f2cb5c" fill-opacity="0.46" stroke="#000" stroke-opacity="0.73" stroke-width="1.03"/>
<path d="M422.7 278.5L425.9 281.7L422.7 284.9L419.5 281.7Z" fill="#f2cb5c" fill-opacity="0.32" stroke="#000" stroke-opacity="0.55" stroke-width="0.95"/>
<path d="M427.1 255.9L436.4 265.2L427.1 274.5L417.8 265.2Z" fill="#f2cb5c" fill-opacity="0.89" stroke="#000" stroke-opacity="0.96" stroke-width="1.33"/>
<path d="M446.7 237.7L455.9 246.9L446.7 256.1L437.5 246.9Z" fill="#f2cb5c" fill-opacity="0.88" stroke="#000" stroke-opacity="0.95" stroke-width="1.33"/>
<path d="M457.7 271.8L462.6 276.7L457.7 281.6L452.8 276.7Z" fill="#f2cb5c" fill-opacity="0.40" stroke="#000" stroke-opacity="0.70" stroke-width="1.00"/>
<path d="M466.2 274.7L471.0 279.5L466.2 284.3L461.4 279.5Z" fill="#f2cb5c" fill-opacity="0.40" stroke="#000" stroke-opacity="0.69" stroke-width="1.00"/>
<path d="M473.0 262.7L480.9 270.6L473.0 278.5L465.1 270.6Z" fill="#f2cb5c" fill-opacity="0.76" stroke="#000" stroke-opacity="0.87" stroke-width="1.20"/>
<path d="M492.8 259.2L502.8 269.2L492.8 279.1L482.9 269.2Z" fill="#f2cb5c" fill-opacity="0.95" stroke="#000" stroke-opacity="1.00" stroke-width="1.40"/>
<path d="M481.2 263.9L484.9 267.6L481.2 271.3L477.5 267.6Z" fill="#f2cb5c" fill-opacity="0.34" stroke="#000" stroke-opacity="0.59" stroke-width="0.96"/>
<path d="M487.5 261.0L493.1 266.6L487.5 272.2L481.9 266.6Z" fill="#f2cb5c" fill-opacity="0.50" stroke="#000" stroke-opacity="0.74" stroke-width="1.04"/>
<path d="M490.5 260.2L495.2 264.9L490.5 269.6L485.8 264.9Z" fill="#f2cb5c" fill-opacity="0.39" stroke="#000" stroke-opacity="0.68" stroke-width="0.99"/>
<path d="M492.5 242.0L501.0 250.5L492.5 259.0L484.0 250.5Z" fill="#f2cb5c" fill-opacity="0.81" stroke="#000" stroke-opacity="0.91" stroke-width="1.26"/>
<path d="M467.1 223.9L476.2 233.0L467.1 242.1L458.0 233.0Z" fill="#f2cb5c" fill-opacity="0.87" stroke="#000" stroke-opacity="0.95" stroke-width="1.32"/>
<path d="M485.5 217.6L493.8 225.9L485.5 234.2L477.2 225.9Z" fill="#f2cb5c" fill-opacity="0.80" stroke="#000" stroke-opacity="0.90" stroke-width="1.24"/>
<path d="M500.3 226.6L510.4 236.7L500.3 246.8L490.2 236.7Z" fill="#f2cb5c" fill-opacity="0.95" stroke="#000" stroke-opacity="1.00" stroke-width="1.40"/>
<path d="M500.5 226.5L508.6 234.6L500.5 242.7L492.4 234.6Z" fill="#f2cb5c" fill-opacity="0.78" stroke="#000" stroke-opacity="0.89" stroke-width="1.22"/>
<path d="M497.4 217.8L505.9 226.3L497.4 234.8L488.9 226.3Z" fill="#f2cb5c" fill-opacity="0.81" stroke="#000" stroke-opacity="0.91" stroke-width="1.26"/>
</g>
<path d="M396.8 209.5L407.0 219.7L396.8 229.9L386.6 219.7Z" fill="#000"/>
<g stroke="#333" stroke-width="1.2" fill="none">
<path d="M76.6 8.0V431.4H539.8"/>
<line x1="153.4" y1="431.4" x2="153.4" y2="425.9" />
<line x1="76.6" y1="360.7" x2="82.1" y2="360.7" />
<line x1="230.6" y1="431.4" x2="230.6" y2="425.9" />
<line x1="76.6" y1="290.2" x2="82.1" y2="290.2" />
<line x1="307.8" y1="431.4" x2="307.8" y2="425.9" />
<line x1="76.6" y1="219.6" x2="82.1" y2="219.6" />
<line x1="385.0" y1="431.4" x2="385.0" y2="425.9" />
<line x1="76.6" y1="149.0" x2="82.1" y2="149.0" />
<line x1="462.2" y1="431.4" x2="462.2" y2="425.9" />
<line x1="76.6" y1="78.5" x2="82.1" y2="78.5" />
</g>
<g font-size="21" style="font-size:21px">
<text x="147.08" y="451.55" style="font-size:21.50px" textLength="27.21" lengthAdjust="spacingAndGlyphs">0.4</text>
<text x="225.38" y="451.59" style="font-size:21.50px" textLength="25.83" lengthAdjust="spacingAndGlyphs">0.2</text>
<text x="294.95" y="451.56" style="font-size:21.50px" textLength="26.66" lengthAdjust="spacingAndGlyphs">0.0</text>
<text x="372.08" y="451.59" style="font-size:21.50px" textLength="27.04" lengthAdjust="spacingAndGlyphs">0.2</text>
<text x="448.63" y="451.57" style="font-size:21.50px" textLength="27.43" lengthAdjust="spacingAndGlyphs">0.4</text>
<text x="44.15" y="85.60" style="font-size:21.50px" textLength="26.64" lengthAdjust="spacingAndGlyphs">0.4</text>
<text x="44.65" y="156.60" style="font-size:21.50px" textLength="27.08" lengthAdjust="spacingAndGlyphs">0.2</text>
<text x="44.43" y="226.55" style="font-size:21.50px" textLength="27.12" lengthAdjust="spacingAndGlyphs">0.0</text>
<text x="45.02" y="297.56" style="font-size:21.50px" textLength="26.73" lengthAdjust="spacingAndGlyphs">0.2</text>
<text x="43.63" y="367.57" style="font-size:21.50px" textLength="27.84" lengthAdjust="spacingAndGlyphs">0.4</text>
<rect x="30.1" y="360.95" width="13.1" height="1.7" fill="#000"/>
<rect x="31.0" y="290.35" width="13.2" height="1.7" fill="#000"/>
<rect x="133.1" y="444.75" width="13.1" height="1.7" fill="#000"/>
<rect x="210.9" y="444.85" width="13.3" height="1.7" fill="#000"/>
</g>
<text x="254.25" y="476.55" style="font-size:19.80px" textLength="108.73" lengthAdjust="spacingAndGlyphs" class="ns">y Projection</text>
<text transform="translate(20.3,219.7) rotate(-90)" class="ns" text-anchor="middle" style="font-size:19.80px" textLength="106.0" lengthAdjust="spacingAndGlyphs">z Projection</text>
<g style="font-size:22px">
<rect x="92.0" y="154.5" width="115.5" height="104.8" fill="#fff" stroke="#333" stroke-width="1"/>
<path d="M112.6 169.6L123.5 180.5L112.6 191.4L101.7 180.5Z" fill="#7aa098" fill-opacity="1.00" stroke="#000" stroke-opacity="1.00" stroke-width="1.40"/>
<path d="M112.6 195.8L123.5 206.7L112.6 217.6L101.7 206.7Z" fill="#f2cb5c" fill-opacity="1.00" stroke="#000" stroke-opacity="1.00" stroke-width="1.40"/>
<path d="M112.6 222.1L123.6 233.1L112.6 244.1L101.6 233.1Z" fill="#000"/>
<text x="133.08" y="186.74" style="font-size:20.20px" textLength="63.66" lengthAdjust="spacingAndGlyphs">Δν &gt; 0</text>
<text x="133.08" y="213.74" style="font-size:20.20px" textLength="63.66" lengthAdjust="spacingAndGlyphs">Δν &lt; 0</text>
<text x="132.08" y="239.78" style="font-size:20.20px" textLength="52.74" lengthAdjust="spacingAndGlyphs">Signal</text>
</g>
</g>
</svg>
</body></html>
